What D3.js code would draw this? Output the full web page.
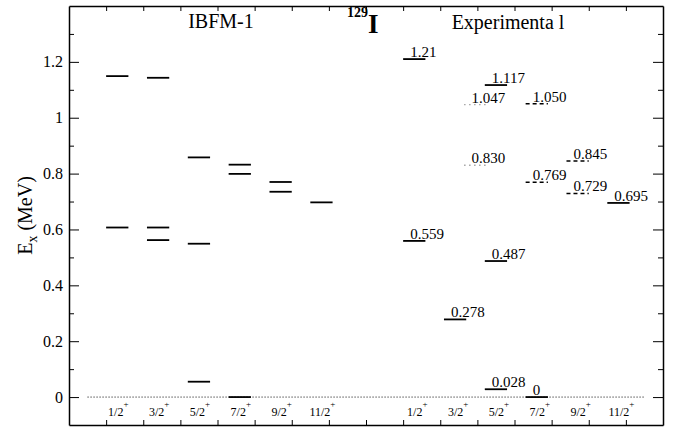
<!DOCTYPE html>
<html>
<head>
<meta charset="utf-8">
<script src="https://cdn.jsdelivr.net/npm/d3@7"></script>
<style>
  body { margin: 0; background: #fff; }
  svg text { font-family: "Times New Roman", "Liberation Serif", "DejaVu Serif", serif; fill: #000; }
</style>
</head>
<body>
<div id="chart"></div>
<script>
// spin labels (same for both columns)
const spins = ["1/2", "3/2", "5/2", "7/2", "9/2", "11/2"];

// IBFM-1 calculated levels (MeV), one list per spin
const ibfmLevels = [
  [0.607, 1.149],
  [0.562, 0.607, 1.143],
  [0.055, 0.549, 0.858],
  [0.0, 0.799, 0.832],
  [0.735, 0.770],
  [0.697]
];

// experimental levels: spin column, energy, label, line style
const expSpin   = [0, 0, 1, 1.5, 1.5, 2, 2, 2, 3, 3, 3, 4, 4, 5];
const expEnergy = [1.21, 0.559, 0.278, 1.047, 0.830, 1.117, 0.487, 0.028, 0, 0.769, 1.050, 0.845, 0.729, 0.695];
const expLabel  = ["1.21", "0.559", "0.278", "1.047", "0.830", "1.117", "0.487", "0.028", "0", "0.769", "1.050", "0.845", "0.729", "0.695"];
const expStyle  = ["solid", "solid", "solid", "dot", "dot", "solid", "solid", "solid", "solid", "dash", "dash", "dash", "dash", "solid"];

const yMajor = [0, 0.2, 0.4, 0.6, 0.8, 1.0, 1.2];
const yMinor = [0.1, 0.3, 0.5, 0.7, 0.9, 1.1, 1.3];
const xTicks = d3.range(1, 16);

const W = 675, H = 428;
const margin = { top: 6, right: 12, bottom: 3, left: 69 };
const serif = '"Times New Roman", "Liberation Serif", serif';

const svg = d3.select("#chart").append("svg")
  .attr("width", W).attr("height", H);

const x = d3.scaleLinear().domain([0, 16]).range([margin.left, W - margin.right]);
const y = d3.scaleLinear().domain([-0.1, 1.4]).range([H - margin.bottom, margin.top]);

// column start (in x units) for each group
const colStart = (group, i) => (group === "ibfm" ? 1 : 9) + 1.1 * i;
const lineLen = 0.6;

// frame + ticks
const fmt = d => String(+d.toFixed(1));
svg.append("g").attr("transform", `translate(${x(0)},0)`)
  .attr("font-family", serif).attr("font-size", 16)
  .call(d3.axisLeft(y).tickValues(yMajor).tickSize(-10).tickSizeOuter(0).tickPadding(6).tickFormat(fmt))
  .attr("font-family", serif).attr("font-size", 16);
svg.append("g").attr("transform", `translate(${x(0)},0)`)
  .call(d3.axisLeft(y).tickValues(yMinor).tickSize(-5).tickSizeOuter(0).tickFormat(""))
  .call(g => g.select(".domain").remove());
svg.append("g").attr("transform", `translate(${x(16)},0)`)
  .call(d3.axisRight(y).tickValues(yMajor).tickSize(-10).tickSizeOuter(0).tickFormat(""));
svg.append("g").attr("transform", `translate(${x(16)},0)`)
  .call(d3.axisRight(y).tickValues(yMinor).tickSize(-5).tickSizeOuter(0).tickFormat(""))
  .call(g => g.select(".domain").remove());
svg.append("g").attr("transform", `translate(0,${y(1.4)})`)
  .call(d3.axisTop(x).tickValues(xTicks).tickSize(-5).tickSizeOuter(0).tickFormat(""));
svg.append("g").attr("transform", `translate(0,${y(-0.1)})`)
  .call(d3.axisBottom(x).tickValues(xTicks).tickSize(-5).tickSizeOuter(0).tickFormat(""));
svg.selectAll(".domain").attr("stroke-width", 1.5);

// zero line
svg.append("line")
  .attr("x1", x(0.5)).attr("x2", x(15.5))
  .attr("y1", y(0)).attr("y2", y(0))
  .attr("stroke", "#000").attr("stroke-width", 1)
  .attr("stroke-dasharray", "1,2");

// IBFM levels
const ibfmFlat = [];
ibfmLevels.forEach((lv, i) => lv.forEach(e => ibfmFlat.push({ i, e })));
svg.append("g").selectAll("line").data(ibfmFlat).join("line")
  .attr("x1", d => x(colStart("ibfm", d.i)))
  .attr("x2", d => x(colStart("ibfm", d.i) + lineLen))
  .attr("y1", d => y(d.e)).attr("y2", d => y(d.e))
  .attr("stroke", "#000").attr("stroke-width", 1.8);

// experimental levels
const exp = expEnergy.map((e, k) => ({ i: expSpin[k], e, label: expLabel[k], style: expStyle[k] }));
const expG = svg.append("g");
expG.selectAll("line").data(exp).join("line")
  .attr("x1", d => x(colStart("exp", d.i)))
  .attr("x2", d => x(colStart("exp", d.i) + lineLen))
  .attr("y1", d => y(d.e)).attr("y2", d => y(d.e))
  .attr("stroke", d => d.style === "dot" ? "#777" : "#000")
  .attr("stroke-width", d => d.style === "solid" ? 1.8 : 1.4)
  .attr("stroke-dasharray", d => d.style === "dash" ? "4,3" : d.style === "dot" ? "1,4" : null);
expG.selectAll("text").data(exp).join("text")
  .attr("x", d => x(colStart("exp", d.i)) + 7)
  .attr("y", d => y(d.e) - 2)
  .style("font-size", "15px")
  .text(d => d.label);

// spin labels
const spinLabel = (group) => {
  const t = svg.append("g").selectAll("text").data(spins).join("text")
    .attr("x", (d, i) => x(colStart(group, i) + lineLen / 2) + (group === "ibfm" ? 1 : 3))
    .attr("y", 416)
    .attr("text-anchor", "middle")
    .style("font-size", "12px");
  t.append("tspan").text(d => d);
  t.append("tspan").attr("dy", -9).style("font-size", "9px").text("+");
};
spinLabel("ibfm");
spinLabel("exp");

// titles
svg.append("text").attr("x", 221).attr("y", 28).attr("text-anchor", "middle")
  .style("font-size", "20px").text("IBFM-1");
svg.append("text").attr("x", 508).attr("y", 29).attr("text-anchor", "middle")
  .style("font-size", "20px").text("Experimenta l");
const nuc = svg.append("text").attr("x", 347).attr("y", 33).style("font-weight", "bold");
nuc.append("tspan").attr("dy", -16).style("font-size", "14px").text("129");
nuc.append("tspan").attr("dy", 16).style("font-size", "27px").text("I");

// y axis title
const yt = svg.append("text")
  .attr("transform", `translate(32,${y(0.65)}) rotate(-90)`)
  .attr("text-anchor", "middle")
  .style("font-size", "20px");
yt.append("tspan").text("E");
yt.append("tspan").attr("dy", 5).style("font-size", "14px").text("x");
yt.append("tspan").attr("dy", -5).text(" (MeV)");
</script>
</body>
</html>
